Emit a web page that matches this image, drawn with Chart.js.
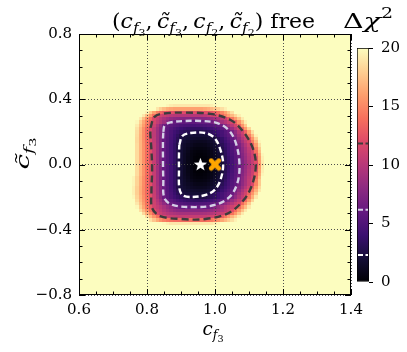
<!DOCTYPE html>
<html><head><meta charset="utf-8">
<script src="https://cdn.jsdelivr.net/npm/chart.js@4.4.1/dist/chart.umd.min.js"></script>
<style>
html,body{margin:0;padding:0;background:#fff;}
#wrap{position:relative;width:407px;height:352px;overflow:hidden;}
#main{position:absolute;left:0;top:0;}
#cbar{position:absolute;left:350px;top:30px;}
</style></head>
<body><div id="wrap"><canvas id="main" width="407" height="352"></canvas><canvas id="cbar" width="57" height="270"></canvas></div>
<script>
// ---- tick values and labels ----
const xTicks=[0.6,0.8,1.0,1.2,1.4];
const xTickLabels=['0.6','0.8','1.0','1.2','1.4'];
const yTicks=[-0.8,-0.4,0,0.4,0.8];
const yTickLabels=['\u22120.8','\u22120.4','0.0','0.4','0.8'];
const xMinorTicks=[0.65,0.7,0.75,0.85,0.9,0.95,1.05,1.1,1.15,1.25,1.3,1.35];
const yMinorTicks=[-0.7,-0.6,-0.5,-0.3,-0.2,-0.1,0.1,0.2,0.3,0.5,0.6,0.7];
const cbTicks=[0,5,10,15,20];
const cbTickLabels=['0','5','10','15','20'];
const contourLevels=[2.30,6.18,11.83];

// ---- Δχ² grid (cell centres, step 0.01 in x, 0.02 in y) ----
const gridX=[0.75,0.76,0.77,0.78,0.79,0.80,0.81,0.82,0.83,0.84,0.85,0.86,0.87,0.88,0.89,0.90,0.91,0.92,0.93,0.94,0.95,0.96,0.97,0.98,0.99,1.00,1.01,1.02,1.03,1.04,1.05,1.06,1.07,1.08,1.09,1.10,1.11,1.12,1.13,1.14,1.15];
const gridY=[0.36,0.34,0.32,0.30,0.28,0.26,0.24,0.22,0.20,0.18,0.16,0.14,0.12,0.10,0.08,0.06,0.04,0.02,0.00,-0.02,-0.04,-0.06,-0.08,-0.10,-0.12,-0.14,-0.16,-0.18,-0.20,-0.22,-0.24,-0.26,-0.28,-0.30,-0.32,-0.34,-0.36];
const deltaChi2=[
[20,20,20,20,20,20,20,20,20,20,20,19.7,19.3,19.1,19.1,19.1,19.1,19.1,19.1,19.1,19.1,19.1,19.1,19.1,19.4,19.7,20,20,20,20,20,20,20,20,20,20,20,20,20,20,20],
[20,20,20,20,20,20,20,20,19,18,17.2,16.6,16.3,16.1,16.1,16.1,16.1,16.1,16.1,16.1,16.1,16.1,16.3,16.6,17,17.5,18.1,18.7,19.4,20,20,20,20,20,20,20,20,20,20,20,20],
[20,20,20,20,20,19.4,17.7,16,14.6,13.5,12.9,12.5,12.3,12.2,12.1,12.1,12.1,12.1,12.1,12.1,12.1,12.1,12.2,12.4,12.7,13.2,13.9,14.9,16.1,17.4,18.7,20,20,20,20,20,20,20,20,20,20],
[20,20,20,20,19.1,17.4,15.7,13.9,12.2,11.4,10.9,10.5,10.2,10,9.9,9.9,9.9,9.9,9.9,9.9,9.9,10,10.2,10.6,11,11.5,12.6,13.7,14.9,16,17.1,18.3,19.4,20,20,20,20,20,20,20,20],
[20,20,20,19.1,17.3,15.5,13.7,11.8,10.9,10.1,9.4,8.8,8.3,8,7.8,7.7,7.6,7.6,7.6,7.6,7.6,7.7,7.8,8.1,8.5,9,9.6,10.3,11.1,12.7,14.3,15.9,17.6,19.2,20,20,20,20,20,20,20],
[20,20,19.7,18,16.3,14.7,13,11.6,10.6,9.7,8.8,7.9,6.9,6.1,6,5.9,5.8,5.7,5.7,5.7,5.8,5.9,6,6.1,6.6,7.4,8.3,9.1,9.9,10.8,11.6,13.3,15.3,17.4,19.4,20,20,20,20,20,20],
[20,20,19.2,17.5,15.9,14.3,12.6,11.1,9.5,8,6.5,5.9,5.6,5.3,5.1,4.9,4.8,4.7,4.6,4.6,4.7,4.8,4.9,5.1,5.3,5.6,5.9,6.5,7.8,9,10.2,11.5,13.4,15.6,17.8,20,20,20,20,20,20],
[20,20,18.8,17,15.3,13.6,11.8,10.4,9,7.6,6.2,5.6,5.1,4.7,4.3,4,3.8,3.6,3.5,3.5,3.5,3.6,3.8,4,4.3,4.6,5,5.5,6.1,7.3,8.6,10,11.4,13.5,15.9,18.3,20,20,20,20,20],
[20,20,18.6,16.9,15.2,13.5,11.8,10.3,8.8,7.4,6,5.4,4.8,4.2,3.8,3.4,3.1,2.9,2.7,2.6,2.6,2.7,2.8,3,3.3,3.7,4.1,4.6,5.2,5.9,6.9,8.3,9.8,11.2,13.4,16,18.7,20,20,20,20],
[20,20,18.5,16.8,15.2,13.5,11.8,10.3,8.8,7.4,6.1,5.4,4.7,4,3.4,2.7,2.2,2.1,2,2,2,2,2,2.2,2.7,3.3,3.9,4.5,5,5.6,6.3,7.7,9.1,10.6,12.1,14.6,17.1,19.5,20,20,20],
[20,20,18.4,16.8,15.2,13.6,12,10.4,8.8,7.3,6,5.3,4.6,3.9,3.1,2.4,2.1,1.9,1.7,1.6,1.5,1.5,1.6,1.8,2,2.3,3,3.7,4.5,5.2,5.9,7,8.4,9.8,11.1,13.1,15.7,18.2,20,20,20],
[20,20,18.4,16.9,15.3,13.7,12.1,10.5,8.9,7.3,6,5.2,4.4,3.7,2.9,2.2,1.8,1.6,1.3,1.2,1.1,1.1,1.2,1.4,1.7,2.1,2.7,3.5,4.2,4.9,5.6,6.5,7.8,9.2,10.5,11.8,14.5,17.1,19.7,20,20],
[20,20,18.5,16.9,15.4,13.8,12.3,10.7,9,7.3,5.9,5.1,4.3,3.5,2.7,2,1.6,1.3,1.1,0.9,0.8,0.8,0.9,1.1,1.4,1.8,2.4,3.1,3.8,4.5,5.2,6,7.1,8.4,9.7,11,13,15.9,18.8,20,20],
[20,20,18.5,16.9,15.4,13.8,12.3,10.7,9,7.3,5.9,5.1,4.3,3.5,2.7,2,1.5,1.1,0.8,0.6,0.5,0.5,0.6,0.8,1.2,1.6,2.1,2.8,3.6,4.4,5.1,5.8,6.8,8,9.2,10.5,11.7,14.7,17.8,20,20],
[20,20,18.5,16.9,15.4,13.8,12.3,10.7,9,7.3,5.9,5.1,4.3,3.5,2.7,1.9,1.4,1,0.6,0.4,0.3,0.3,0.4,0.6,0.9,1.4,1.9,2.5,3.3,4.1,4.9,5.7,6.7,7.9,9.1,10.3,11.5,14,17.2,20,20],
[20,20,18.5,16.9,15.4,13.8,12.3,10.7,9,7.3,5.9,5.1,4.3,3.5,2.7,1.9,1.3,0.9,0.5,0.3,0.2,0.2,0.3,0.5,0.8,1.2,1.7,2.4,3.2,4,4.8,5.5,6.4,7.6,8.8,10,11.2,13.4,16.5,19.7,20],
[20,20,18.5,16.9,15.4,13.8,12.3,10.7,9,7.3,5.9,5.1,4.3,3.5,2.7,1.9,1.3,0.8,0.5,0.2,0.1,0.1,0.2,0.4,0.7,1.1,1.6,2.2,3,3.8,4.6,5.4,6.2,7.4,8.6,9.8,11,12.8,16.1,19.4,20],
[20,20,18.5,16.9,15.4,13.8,12.3,10.7,9,7.3,5.9,5.1,4.3,3.5,2.7,1.9,1.3,0.8,0.4,0.15,0.05,0.05,0.15,0.35,0.65,1.05,1.55,2.1,2.9,3.7,4.5,5.3,6.1,7.2,8.4,9.6,10.8,12.2,15.8,19.2,20],
[20,20,18.5,17,15.5,14.1,12.6,10.9,9.2,7.4,5.9,5.1,4.2,3.4,2.6,1.9,1.3,0.8,0.4,0.1,0,0,0.1,0.3,0.6,1,1.5,2,2.8,3.6,4.4,5.2,6,7.1,8.3,9.5,10.6,11.8,15.4,18.9,20],
[20,20,18.5,16.9,15.4,13.8,12.3,10.7,9,7.3,5.9,5.1,4.3,3.5,2.7,1.9,1.3,0.8,0.4,0.15,0.05,0.05,0.15,0.35,0.65,1.05,1.55,2.1,2.9,3.7,4.5,5.3,6.1,7.2,8.4,9.6,10.8,12.2,15.8,19.2,20],
[20,20,18.5,16.9,15.4,13.8,12.3,10.7,9,7.3,5.9,5.1,4.3,3.5,2.7,1.9,1.3,0.8,0.5,0.2,0.1,0.1,0.2,0.4,0.7,1.1,1.6,2.2,3,3.8,4.6,5.4,6.2,7.4,8.6,9.8,11,12.8,16.1,19.4,20],
[20,20,18.5,16.9,15.4,13.8,12.3,10.7,9,7.3,5.9,5.1,4.3,3.5,2.7,1.9,1.3,0.9,0.5,0.3,0.2,0.2,0.3,0.5,0.8,1.2,1.7,2.4,3.2,4,4.8,5.5,6.4,7.6,8.8,10,11.2,13.4,16.5,19.7,20],
[20,19.6,18.2,16.7,15.2,13.7,12.3,10.7,9,7.3,5.9,5.1,4.3,3.5,2.7,1.9,1.4,1,0.6,0.4,0.3,0.3,0.4,0.6,0.9,1.4,1.9,2.5,3.3,4.1,4.9,5.7,6.7,7.9,9.1,10.3,11.5,14,17.2,20,20],
[20,19.6,18.2,16.7,15.2,13.7,12.3,10.7,9,7.3,5.9,5.1,4.3,3.5,2.7,2,1.5,1.1,0.8,0.6,0.5,0.5,0.6,0.8,1.2,1.6,2.1,2.8,3.6,4.4,5.1,5.8,6.8,8,9.2,10.5,11.7,14.7,17.8,20,20],
[20,19.6,18.2,16.7,15.2,13.7,12.3,10.7,9,7.3,5.9,5.1,4.3,3.5,2.7,2,1.6,1.3,1.1,0.9,0.8,0.8,0.9,1.1,1.4,1.8,2.4,3.1,3.8,4.5,5.2,5.9,6.9,8.1,9.3,10.6,11.8,14.8,17.8,20,20],
[20,19.4,18,16.6,15.1,13.7,12.3,10.7,9.2,7.6,6.1,5.3,4.4,3.6,2.7,2.1,1.8,1.5,1.3,1.2,1.1,1.1,1.2,1.4,1.8,2.2,2.8,3.5,4.1,4.8,5.5,6.2,7.5,8.7,10,11.3,13.4,15.9,18.5,20,20],
[20,19.4,18,16.6,15.1,13.7,12.3,10.7,9.2,7.6,6.1,5.3,4.5,3.7,3,2.2,2,1.8,1.7,1.6,1.5,1.5,1.6,1.8,2.1,2.6,3.2,3.9,4.6,5.2,5.9,6.9,8.2,9.5,10.8,12.3,14.5,16.8,19.1,20,20],
[20,19.4,18,16.6,15.1,13.7,12.3,10.8,9.2,7.7,6.2,5.4,4.7,3.9,3.2,2.5,2.2,2.1,2,1.9,1.9,1.9,2,2.3,2.9,3.4,4,4.5,5.1,5.7,6.3,7.6,8.9,10.2,11.4,13.4,15.6,17.8,20,20,20],
[20,19.7,18.2,16.8,15.3,13.9,12.4,10.9,9.4,7.9,6.3,5.5,4.8,4.2,3.7,3.3,3,2.7,2.5,2.4,2.4,2.5,2.6,2.9,3.2,3.5,4,4.6,5.2,6,7,8.3,9.5,10.7,12.1,14.4,16.7,19.1,20,20,20],
[20,20,18.5,17,15.5,13.9,12.4,11.1,9.9,8.6,7.4,6.2,5.6,5.1,4.6,4.2,3.9,3.7,3.6,3.5,3.5,3.6,3.8,4,4.3,4.7,5.2,5.7,6.4,7.4,8.5,9.5,10.6,11.6,13.6,15.9,18.2,20,20,20,20],
[20,20,19,17.4,15.8,14.1,12.5,11.2,10.2,9.2,8.2,7.2,6.2,5.8,5.5,5.2,5,4.9,4.8,4.8,4.9,5,5.1,5.3,5.6,5.9,6.4,7.3,8.2,9.1,9.9,10.9,11.7,13.7,15.7,17.8,19.8,20,20,20,20],
[20,20,19.7,17.9,16.2,14.4,12.7,11.3,10.7,10,9.3,8.6,8,7.3,6.7,6.2,6.2,6.1,6.1,6.1,6.1,6.1,6.2,6.2,6.9,7.6,8.3,9,9.8,10.5,11.2,11.9,13.8,15.6,17.3,19.1,20,20,20,20,20],
[20,20,20,18.7,17.1,15.4,13.8,12.2,11.1,10.4,9.7,9.1,8.6,8.2,7.9,7.8,7.7,7.7,7.7,7.7,7.7,7.7,7.8,8,8.3,8.7,9.1,9.6,10.2,10.9,12.2,13.9,15.7,17.4,19.1,20,20,20,20,20,20],
[20,20,20,20,18.4,16.7,15.1,13.5,11.8,11,10.4,10,9.7,9.5,9.3,9.2,9.2,9.2,9.2,9.2,9.2,9.2,9.3,9.5,9.8,10.1,10.5,10.9,11.4,12.3,14,15.7,17.4,19.1,20,20,20,20,20,20,20],
[20,20,20,20,20,18.5,17,15.5,14.1,12.6,11.5,11.1,10.9,10.8,10.7,10.7,10.7,10.7,10.7,10.7,10.7,10.7,10.8,11,11.3,11.6,11.9,13.1,14.4,15.6,16.9,18.1,19.4,20,20,20,20,20,20,20,20],
[20,20,20,20,20,20,18.8,17.6,16.5,15.5,14.8,14.3,14,13.8,13.7,13.7,13.7,13.7,13.7,13.7,13.7,13.7,13.8,14,14.3,14.8,15.5,16.3,17.1,17.9,18.7,19.5,20,20,20,20,20,20,20,20,20],
[20,20,20,20,20,20,20,20,20,20,19.8,19.4,19,19,19,19,19,19,19,19,19,19,19,19,19,19.3,19.7,20,20,20,20,20,20,20,20,20,20,20,20,20,20]
];

// ---- contours (x, y) ----
const contour1sigma=[[0.895,0.120],[0.904,0.175],[0.928,0.193],[0.972,0.193],[0.999,0.162],[1.016,0.089],[1.024,0.000],[1.016,-0.095],[0.999,-0.156],[0.972,-0.187],[0.928,-0.199],[0.904,-0.187],[0.895,-0.144],[0.894,-0.034],[0.894,0.058],[0.895,0.120]];
const contour2sigma=[[0.848,0.200],[0.852,0.240],[0.869,0.258],[0.913,0.267],[0.957,0.267],[1.007,0.254],[1.043,0.205],[1.063,0.120],[1.072,0.000],[1.066,-0.113],[1.043,-0.199],[0.999,-0.248],[0.942,-0.261],[0.875,-0.248],[0.851,-0.205],[0.848,-0.095],[0.847,0.028],[0.847,0.150],[0.848,0.200]];
const contour3sigma=[[0.810,0.224],[0.822,0.292],[0.848,0.312],[0.907,0.318],[0.987,0.310],[1.046,0.273],[1.084,0.199],[1.111,0.101],[1.120,0.000],[1.111,-0.113],[1.087,-0.211],[1.040,-0.297],[0.972,-0.334],[0.898,-0.334],[0.839,-0.316],[0.815,-0.267],[0.813,-0.169],[0.815,-0.034],[0.813,0.089],[0.810,0.181],[0.810,0.224]];
const bestFit=[[0.957,0.0]];
const smPoint=[[1.0,0.0]];

// ---- colour map (magma) ----
const magmaStops=['#000004','#140e36','#3b0f70','#641a80','#8c2981','#b73779','#de4968','#f7705c','#fe9f6d','#fecf92','#fcfdbf'];
const magmaRGB=magmaStops.map(h=>[1,3,5].map(i=>parseInt(h.substr(i,2),16)));
function magma(t){t=Math.max(0,Math.min(1,t));const s=t*10;const i=Math.min(9,Math.floor(s));const f=s-i;const a=magmaRGB[i],b=magmaRGB[i+1];return 'rgb('+a.map((v,k)=>Math.round(v+(b[k]-v)*f)).join(',')+')';}
const VMAX=20;
const lineColors=['#ffffff','#d4cfe6','#3c3c3c'];
const SERIF='"DejaVu Serif"';

// ---- marker images ----
function starImage(){const c=document.createElement('canvas');c.width=15;c.height=15;const g=c.getContext('2d');g.fillStyle='#fff';g.beginPath();for(let k=0;k<10;k++){const r=k%2?2.9:7;const a=-Math.PI/2+k*Math.PI/5;g.lineTo(7.5+r*Math.cos(a),7.8+r*Math.sin(a));}g.closePath();g.fill();return c;}
function xImage(){const c=document.createElement('canvas');c.width=14;c.height=14;const g=c.getContext('2d');g.strokeStyle='#ffa500';g.lineWidth=4.6;g.lineCap='round';g.beginPath();g.moveTo(3.2,3.2);g.lineTo(10.8,10.8);g.moveTo(10.8,3.2);g.lineTo(3.2,10.8);g.stroke();return c;}

// ---- rich text helper ----
function drawRich(ctx,parts,cx,by,targetW,rot){
  ctx.save();ctx.translate(cx,by);if(rot)ctx.rotate(rot);
  let w=0;for(const p of parts){ctx.font=p.f;w+=ctx.measureText(p.t).width+(p.sp||0);}
  const sx=targetW?Math.max(0.8,Math.min(1.5,targetW/w)):1;
  ctx.scale(sx,1);ctx.fillStyle='#000';ctx.textAlign='left';ctx.textBaseline='alphabetic';
  let x=-w/2;for(const p of parts){ctx.font=p.f;ctx.fillText(p.t,x,p.dy||0);x+=ctx.measureText(p.t).width+(p.sp||0);}
  ctx.restore();
}

const heatmapPlugin={id:'heatmap',beforeDraw(chart){
  const {ctx,chartArea:a,scales:{x,y}}=chart;ctx.save();
  ctx.fillStyle=magma(1);ctx.fillRect(a.left,a.top,a.right-a.left,a.bottom-a.top);
  const hw=0.005,hh=0.01;
  for(let j=0;j<gridY.length;j++){const row=deltaChi2[j];for(let i=0;i<gridX.length&&i<row.length;i++){
    const v=row[i];if(v>=VMAX)continue;
    const x0=Math.round(x.getPixelForValue(gridX[i]-hw)),x1=Math.round(x.getPixelForValue(gridX[i]+hw));
    const y0=Math.round(y.getPixelForValue(gridY[j]+hh)),y1=Math.round(y.getPixelForValue(gridY[j]-hh));
    ctx.fillStyle=magma(v/VMAX);ctx.fillRect(x0,y0,x1-x0,y1-y0);
  }}
  ctx.restore();
}};

const framePlugin={id:'frame',afterDraw(chart){
  const {ctx,chartArea:a,scales:{x,y}}=chart;ctx.save();
  ctx.strokeStyle='#000';ctx.lineWidth=1;
  ctx.strokeRect(a.left+0.5,a.top+0.5,a.right-a.left-1,a.bottom-a.top-1);
  ctx.beginPath();
  const xt=(v,len)=>{const p=Math.round(x.getPixelForValue(v))+0.5;ctx.moveTo(p,a.bottom);ctx.lineTo(p,a.bottom-len);ctx.moveTo(p,a.top);ctx.lineTo(p,a.top+len);};
  const yt=(v,len)=>{const p=Math.round(y.getPixelForValue(v))+0.5;ctx.moveTo(a.left,p);ctx.lineTo(a.left+len,p);ctx.moveTo(a.right,p);ctx.lineTo(a.right-len,p);};
  xTicks.forEach(v=>xt(v,6));xMinorTicks.forEach(v=>xt(v,3.5));
  yTicks.forEach(v=>yt(v,6));yMinorTicks.forEach(v=>yt(v,3.5));
  ctx.stroke();ctx.restore();
  const B='20px '+SERIF,I='italic 20px '+SERIF,S='italic 14px '+SERIF,SS='10px '+SERIF;
  const title=[{t:'(',f:B},
    {t:'c',f:I},{t:'f',f:S,dy:5},{t:'3',f:SS,dy:8},{t:',',f:B,sp:4},
    {t:'c\u0303',f:I},{t:'f',f:S,dy:5},{t:'3',f:SS,dy:8},{t:',',f:B,sp:4},
    {t:'c',f:I},{t:'f',f:S,dy:5},{t:'2',f:SS,dy:8},{t:',',f:B,sp:4},
    {t:'c\u0303',f:I},{t:'f',f:S,dy:5},{t:'2',f:SS,dy:8},
    {t:')',f:B},{t:' free',f:B}];
  drawRich(ctx,title,213.5,28,203);
  drawRich(ctx,[{t:'\u0394',f:'21px '+SERIF},{t:'\u03c7',f:'italic 21px '+SERIF},{t:'2',f:'14px '+SERIF,dy:-10}],368,28,50);
  const lab=(tilde)=>[{t:tilde?'c\u0303':'c',f:'italic 19px '+SERIF},{t:'f',f:'italic 13px '+SERIF,dy:4},{t:'3',f:'10px '+SERIF,dy:7}];
  drawRich(ctx,lab(false),213,335,21);
  drawRich(ctx,lab(true),29,153.5,32,-Math.PI/2);
}};

const pts=arr=>arr.map(p=>({x:p[0],y:p[1]}));
const contourDS=(arr,col,dash)=>({data:pts(arr),showLine:true,borderColor:col,borderWidth:2.4,borderDash:dash,pointRadius:0,tension:0.35,fill:false});

new Chart(document.getElementById('main'),{
  type:'scatter',
  data:{datasets:[
    contourDS(contour3sigma,lineColors[2],[7,4]),
    contourDS(contour2sigma,lineColors[1],[6,3.5]),
    contourDS(contour1sigma,lineColors[0],[6,3]),
    {data:pts(bestFit),pointStyle:starImage(),pointRadius:6},
    {data:pts(smPoint),pointStyle:xImage(),pointRadius:6}
  ]},
  options:{responsive:false,animation:false,devicePixelRatio:1,
    layout:{padding:{top:34,right:56,left:0,bottom:0}},
    plugins:{legend:{display:false},tooltip:{enabled:false},title:{display:false}},
    scales:{
      x:{type:'linear',min:0.6,max:1.4,
        afterBuildTicks:s=>{s.ticks=xTicks.map(v=>({value:v}));},
        afterFit:s=>{s.height=57;},
        ticks:{callback:(v,i)=>xTickLabels[i],font:{family:SERIF,size:15},color:'#000',padding:6,maxRotation:0,autoSkip:false},
        grid:{color:'rgba(70,70,70,0.95)',lineWidth:1,drawTicks:false},
        border:{display:false,dash:[1,2]}},
      y:{type:'linear',min:-0.8,max:0.8,
        afterBuildTicks:s=>{s.ticks=yTicks.map(v=>({value:v}));},
        afterFit:s=>{s.width=79;},
        ticks:{callback:(v,i)=>yTickLabels[i],font:{family:SERIF,size:15},color:'#000',padding:7,autoSkip:false},
        grid:{color:'rgba(70,70,70,0.95)',lineWidth:1,drawTicks:false},
        border:{display:false,dash:[1,2]}}
    }},
  plugins:[heatmapPlugin,framePlugin]
});

const cbLevelsPlugin={id:'cblevels',afterDatasetsDraw(chart){
  const {ctx,chartArea:a,scales:{y}}=chart;ctx.save();ctx.lineWidth=2;
  contourLevels.forEach((lv,k)=>{const p=y.getPixelForValue(lv);ctx.strokeStyle=lineColors[k];ctx.setLineDash([5,2.5]);ctx.beginPath();ctx.moveTo(a.left+1,p);ctx.lineTo(a.right-1,p);ctx.stroke();});
  ctx.restore();
}};

new Chart(document.getElementById('cbar'),{
  type:'bar',
  data:{labels:[''],datasets:[{data:[[0,VMAX]],
    backgroundColor:c=>{const ca=c.chart.chartArea;if(!ca)return '#000';const g=c.chart.ctx.createLinearGradient(0,ca.bottom,0,ca.top);magmaStops.forEach((s,i)=>g.addColorStop(i/10,s));return g;},
    borderColor:'#000',borderWidth:1,borderSkipped:false,barPercentage:1,categoryPercentage:1}]},
  options:{responsive:false,animation:false,devicePixelRatio:1,
    layout:{padding:{left:7,top:18,bottom:18,right:0}},
    plugins:{legend:{display:false},tooltip:{enabled:false}},
    scales:{x:{display:false},
      y:{position:'right',min:0,max:VMAX,
        afterBuildTicks:s=>{s.ticks=cbTicks.map(v=>({value:v}));},
        afterFit:s=>{s.width=38;},
        ticks:{callback:(v,i)=>cbTickLabels[i],font:{family:SERIF,size:15},color:'#000',padding:8},
        grid:{drawOnChartArea:false,drawTicks:true,tickLength:4,tickColor:'#000',tickWidth:1,color:'#000'},
        border:{display:false}}}},
  plugins:[cbLevelsPlugin]
});
</script>
</body></html>
